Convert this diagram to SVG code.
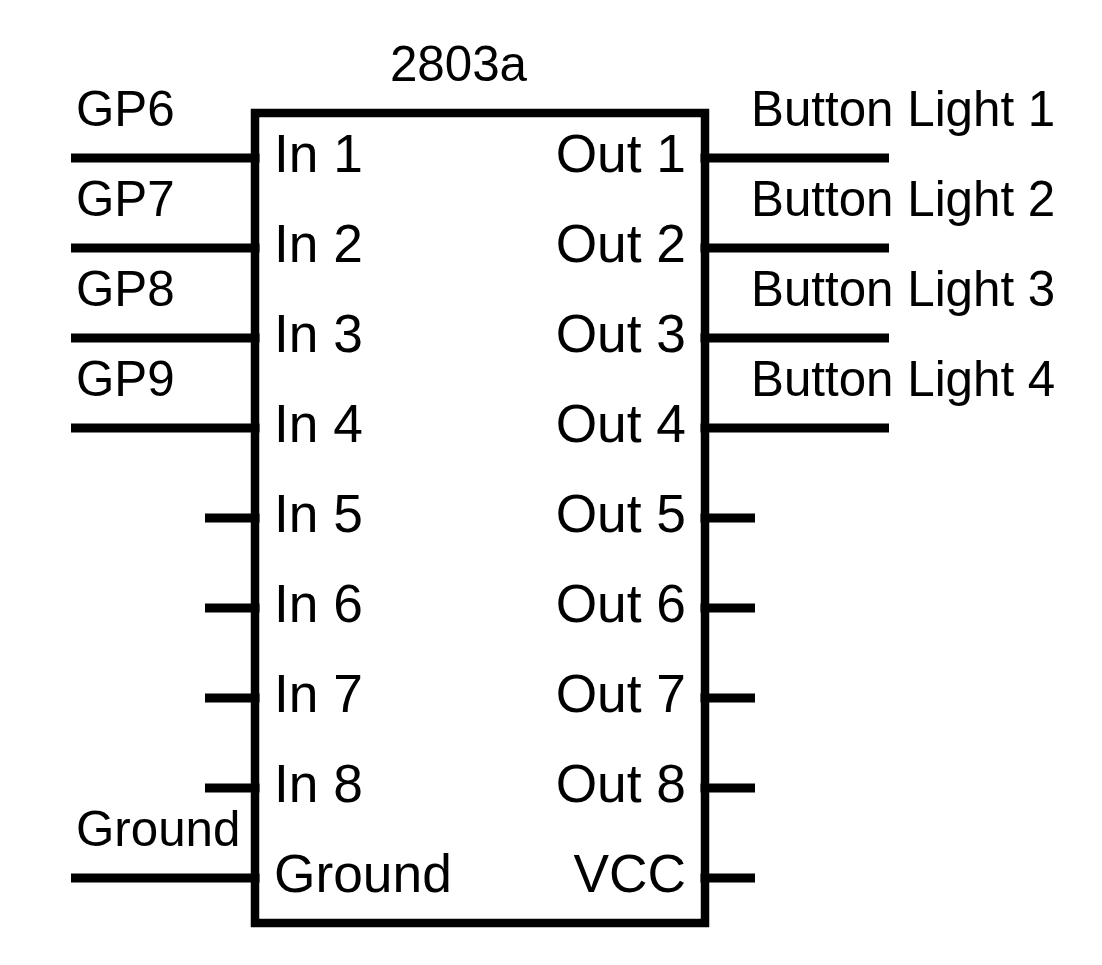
<svg xmlns="http://www.w3.org/2000/svg" width="1102" height="965" viewBox="0 0 1102 965">
<style>
text{font-family:"Liberation Sans",Arial,sans-serif;font-size:49.3px;fill:#000}
.p{font-size:53.3px}
.e{text-anchor:end}
.m{text-anchor:middle}
.c line{stroke:#000;stroke-width:9}
rect{fill:#fff;stroke:#000;stroke-width:8.5}
</style>
<rect width="1102" height="965" style="stroke:none"/>
<g id="chip">
<rect x="255" y="113" width="450" height="810"/>
<text class="m" x="458.500" y="81">2803a</text>
<text class="p" x="274" y="172">In 1</text><text class="p" x="274" y="262">In 2</text><text class="p" x="274" y="352">In 3</text><text class="p" x="274" y="442">In 4</text>
<text class="p" x="274" y="532">In 5</text><text class="p" x="274" y="622">In 6</text><text class="p" x="274" y="712">In 7</text><text class="p" x="274" y="802">In 8</text>
<text class="p" x="274" y="892">Ground</text>
<text class="p e" x="686" y="172">Out 1</text><text class="p e" x="686" y="262">Out 2</text><text class="p e" x="686" y="352">Out 3</text><text class="p e" x="686" y="442">Out 4</text>
<text class="p e" x="686" y="532">Out 5</text><text class="p e" x="686" y="622">Out 6</text><text class="p e" x="686" y="712">Out 7</text><text class="p e" x="686" y="802">Out 8</text>
<text class="p e" x="686" y="892">VCC</text>
</g>
<g id="connectors" class="c">
<line x1="71" y1="158" x2="259.500" y2="158"/><line x1="71" y1="248" x2="259.500" y2="248"/><line x1="71" y1="338" x2="259.500" y2="338"/><line x1="71" y1="428" x2="259.500" y2="428"/>
<line x1="205" y1="518" x2="259.500" y2="518"/><line x1="205" y1="608" x2="259.500" y2="608"/><line x1="205" y1="698" x2="259.500" y2="698"/><line x1="205" y1="788" x2="259.500" y2="788"/>
<line x1="71" y1="878" x2="259.500" y2="878"/>
<line x1="700.500" y1="158" x2="889" y2="158"/><line x1="700.500" y1="248" x2="889" y2="248"/><line x1="700.500" y1="338" x2="889" y2="338"/><line x1="700.500" y1="428" x2="889" y2="428"/>
<line x1="700.500" y1="518" x2="755" y2="518"/><line x1="700.500" y1="608" x2="755" y2="608"/><line x1="700.500" y1="698" x2="755" y2="698"/><line x1="700.500" y1="788" x2="755" y2="788"/><line x1="700.500" y1="878" x2="755" y2="878"/>
</g>
<g id="left-labels">
<text x="76" y="126">GP6</text><text x="76" y="216">GP7</text><text x="76" y="306">GP8</text><text x="76" y="396">GP9</text><text x="76" y="846">Ground</text>
</g>
<g id="right-labels">
<text x="751" y="126">Button Light 1</text><text x="751" y="216">Button Light 2</text><text x="751" y="306">Button Light 3</text><text x="751" y="396">Button Light 4</text>
</g>
</svg>
